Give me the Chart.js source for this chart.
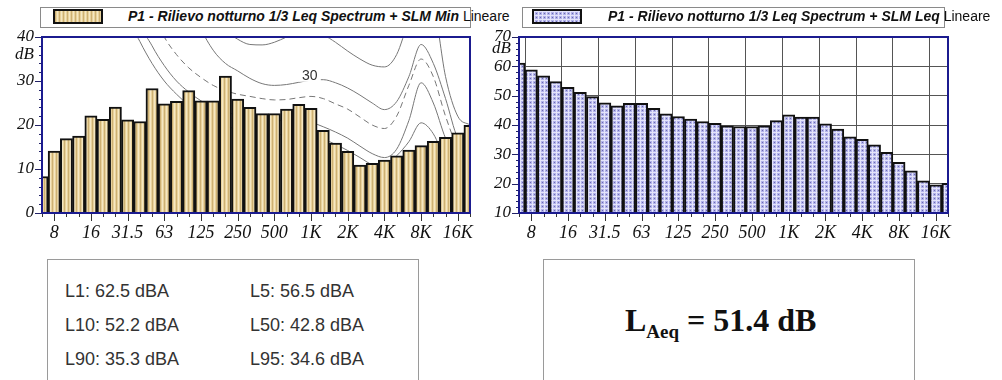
<!DOCTYPE html>
<html>
<head>
<meta charset="utf-8">
<script src="https://cdn.jsdelivr.net/npm/chart.js@4.4.0/dist/chart.umd.min.js"></script>
<style>
  body { margin: 0; width: 1002px; height: 380px; background: #fff; position: relative; overflow: hidden; font-family: "Liberation Sans", Arial, sans-serif; }
  .grafico { position: absolute; top: 0; height: 250px; }
  .legenda { position: absolute; top: 7px; height: 19px; border: 1px solid #8a8a8a; background: #fff; }
  .campione { position: absolute; top: 9px; width: 46px; height: 11px; border: 2px solid #111; }
  .testoleg { position: absolute; top: 8px; font: italic bold 14px "Liberation Sans", Arial, sans-serif; white-space: nowrap; color: #111; }
  .testoleg span { font-style: normal; font-weight: normal; }
  .riquadro { position: absolute; top: 259px; width: 370px; height: 140px; border: 1px solid #9a9a9a; background: #fff; }
  .livelli { position: absolute; left: 17px; top: 14px; width: 350px; display: grid; grid-template-columns: 185px 165px; font-size: 18px; color: #333; line-height: 34px; white-space: nowrap; }
  .laeq { position: absolute; left: 81px; top: 42px; font: bold 32px "Liberation Serif", serif; color: #111; white-space: nowrap; }
  .laeq sub { font-size: 19px; vertical-align: -7px; }
</style>
</head>
<body>
<div class="legenda" style="left:40px;width:429px"></div>
<canvas class="campione" id="campMin" width="46" height="11" style="left:53px"></canvas>
<div class="testoleg" style="left:128px">P1 - Rilievo notturno 1/3 Leq Spectrum + SLM Min <span>Lineare</span></div>

<div class="grafico" style="left:0;width:480px"><canvas id="chartMin"></canvas></div>
<div class="grafico" style="left:480px;width:522px"><canvas id="chartLeq"></canvas></div>

<div class="legenda" style="left:522px;width:421px"></div>
<canvas class="campione" id="campLeq" width="46" height="11" style="left:532px"></canvas>
<div class="testoleg" style="left:608px">P1 - Rilievo notturno 1/3 Leq Spectrum + SLM Leq <span>Lineare</span></div>

<div class="riquadro" style="left:47px">
  <div class="livelli">
    <div>L1: 62.5 dBA</div><div>L5: 56.5 dBA</div>
    <div>L10: 52.2 dBA</div><div>L50: 42.8 dBA</div>
    <div>L90: 35.3 dBA</div><div>L95: 34.6 dBA</div>
  </div>
</div>
<div class="riquadro" style="left:543px">
  <div class="laeq">L<sub>Aeq</sub> = 51.4 dB</div>
</div>

<script>
// bande di terzo d'ottava
const bande = ["6.3", "8", "10", "12.5", "16", "20", "25", "31.5", "40", "50", "63", "80",
  "100", "125", "160", "200", "250", "315", "400", "500", "630", "800", "1K", "1.25K",
  "1.6K", "2K", "2.5K", "3.15K", "4K", "5K", "6.3K", "8K", "10K", "12.5K", "16K", "20K"];
const etichetteX = ["8", "16", "31.5", "63", "125", "250", "500", "1K", "2K", "4K", "8K", "16K"];

// spettro Min (dB)
const valoriMin = [8.3, 14.1, 16.9, 17.5, 22.1, 21.3, 24.1, 21.2, 20.8, 28.3, 24.8, 25.4,
  27.8, 25.5, 25.5, 31.1, 25.9, 24.0, 22.6, 22.6, 23.6, 24.7, 23.8, 18.8,
  15.9, 14.0, 10.9, 11.3, 12.0, 13.0, 14.3, 15.3, 16.3, 17.2, 18.2, 19.9];

// spettro Leq (dB)
const valoriLeq = [61.1, 58.8, 56.8, 54.8, 52.8, 51.1, 49.7, 47.6, 46.5, 47.4, 47.4, 45.7,
  43.8, 42.9, 42.0, 41.2, 40.6, 39.7, 39.5, 39.5, 39.7, 41.5, 43.5, 42.7,
  42.7, 40.4, 38.6, 36.0, 35.1, 33.2, 30.7, 27.3, 24.4, 21.0, 19.6, 20.1];

// curve di riferimento sullo sfondo del grafico Min
const curvaAlta = [null, null, null, null, null, null, null, null, null, null, 70, 62,
  55, 49, 44.5, 41.5, 39.5, 38.3, 38.2, 38.8, 40, 41.2, 41.5, 40.5,
  38.8, 36.8, 35, 33.6, 33.2, 36, 44, 52, 48, 31, 22, 20];
const curva30 = [null, null, null, null, null, null, null, null, null, null, null, 60,
  50, 42, 37, 34, 32.3, 30.6, 29.4, 29, 29.2, 29.7, 30.2, 30.3,
  29.6, 28.4, 26.8, 25, 23.5, 25.3, 31, 38.3, 34, 26, 17, 15];
const curvaTratteggio = [null, null, null, null, null, null, null, null, 60, 46, 40, 36,
  33, 30.8, 29, 27.8, 27, 26.5, 26, 25.7, 25.8, 26.2, 26.5, 26,
  24.8, 23.6, 21.8, 20, 19.2, 22, 29, 35, 31, 22, 15, 13];
const curvaMedia = [null, null, null, null, null, null, null, 60, 44, 38, 33.5, 30,
  27.5, 25.5, 24, 23, 22.2, 21.6, 21.2, 21, 21, 21, 20.6, 19.6,
  18.4, 17, 15.2, 13.5, 12.6, 14.5, 21, 29.6, 25, 17, 12, 10];
const curvaBassa = [null, null, null, null, null, null, 60, 45, 39, 34, 30, 27,
  24.5, 22.5, 21, 19.8, 19, 18.4, 18, 17.8, 17.8, 17.8, 17.6, 16.8,
  15.6, 14.2, 12.6, 11, 10.6, 13, 16.2, 20.5, 18, 12, 8, 6];

Chart.defaults.font.family = "'Liberation Serif', serif";
Chart.defaults.color = "#111";

// Funzione per creare la trama delle barre
function creaTrama(tipo) {
  const c = document.createElement("canvas");
  c.width = 4;
  c.height = 4;
  const g = c.getContext("2d");
  if (tipo === "min") {
    g.fillStyle = "#e8d29c";
    g.fillRect(0, 0, 4, 4);
    g.fillStyle = "#cdb073";
    g.fillRect(0, 0, 1, 4);
    g.fillStyle = "#f5e7c3";
    g.fillRect(2, 0, 1, 4);
  } else {
    g.fillStyle = "#b2b2ea";
    g.fillRect(0, 0, 4, 4);
    g.fillStyle = "#e4e4fa";
    g.fillRect(0, 0, 4, 1);
    g.fillRect(0, 0, 1, 4);
    g.fillStyle = "#6c6cae";
    g.fillRect(2, 2, 1, 1);
  }
  return g.createPattern(c, "repeat");
}

function riempiCampione(id, tipo) {
  const g = document.getElementById(id).getContext("2d");
  g.fillStyle = creaTrama(tipo);
  g.fillRect(0, 0, 46, 11);
}
riempiCampione("campMin", "min");
riempiCampione("campLeq", "leq");

// cornice blu e tacche degli assi
const cornice = {
  id: "cornice",
  afterDraw(chart) {
    const { ctx, chartArea: a, scales } = chart;
    ctx.save();
    ctx.strokeStyle = "#333";
    ctx.lineWidth = 1;
    bande.forEach((b, i) => {
      const x = Math.round(scales.x.getPixelForValue(i)) + 0.5;
      const l = etichetteX.includes(b) ? 8 : 4;
      ctx.beginPath();
      ctx.moveTo(x, a.bottom);
      ctx.lineTo(x, a.bottom + l);
      ctx.stroke();
    });
    ctx.strokeStyle = "#222266";
    for (let v = scales.y.min; v <= scales.y.max; v += 2) {
      const y = Math.round(scales.y.getPixelForValue(v)) + 0.5;
      const l = v % 10 === 0 ? 7 : 3;
      ctx.beginPath();
      ctx.moveTo(a.left - l, y);
      ctx.lineTo(a.left, y);
      ctx.stroke();
    }
    ctx.strokeStyle = "#1b1b8f";
    ctx.lineWidth = 2;
    ctx.strokeRect(a.left, a.top, a.right - a.left, a.bottom - a.top);
    ctx.restore();
  },
};

// etichetta "30" sulla curva
const etichettaCurva = {
  id: "etichettaCurva",
  afterDatasetsDraw(chart) {
    if (chart.canvas.id !== "chartMin") return;
    const { ctx, scales } = chart;
    const x = scales.x.getPixelForValue(21.9);
    const y = scales.y.getPixelForValue(31.2);
    ctx.save();
    ctx.fillStyle = "#fff";
    ctx.fillRect(x - 11, y - 7, 22, 13);
    ctx.fillStyle = "#333";
    ctx.font = "14px 'Liberation Sans'";
    ctx.textAlign = "center";
    ctx.textBaseline = "middle";
    ctx.fillText("30", x, y);
    ctx.restore();
  },
};

function datiCurva(valori, tratteggio) {
  return {
    type: "line",
    data: valori,
    borderColor: "#777",
    borderWidth: 1,
    borderDash: tratteggio ? [6, 4] : [],
    pointRadius: 0,
    cubicInterpolationMode: "monotone",
    clip: 0,
    order: 2,
  };
}

function opzioniAssi(min, max, posDb, larghezzaY, griglia) {
  return {
    x: {
      offset: false,
      border: { display: false },
      grid: {
        display: griglia,
        drawTicks: false,
        color: (c) => (c.index % 3 === 1 ? "#555" : "transparent"),
      },
      ticks: {
        autoSkip: false,
        maxRotation: 0,
        padding: 9,
        font: { size: 18, style: "italic" },
        callback: function (v, i) {
          return etichetteX.includes(bande[i]) ? bande[i] : "";
        },
      },
      afterFit(scale) {
        scale.height = 37;
      },
    },
    y: {
      min: min,
      max: max,
      border: { display: false },
      grid: {
        display: griglia,
        drawTicks: false,
        color: (c) => (c.tick.value % 10 === 0 ? "#555" : "transparent"),
      },
      ticks: {
        stepSize: 2,
        autoSkip: false,
        padding: 8,
        font: { size: 17, style: "italic" },
        callback: function (v) {
          if (v % 10 === 0) return v;
          if (v === posDb) return "dB";
          return "";
        },
      },
      afterFit(scale) {
        scale.width = larghezzaY;
      },
    },
  };
}

// grafico spettro Min
new Chart(document.getElementById("chartMin"), {
  type: "bar",
  data: {
    labels: bande,
    datasets: [
      {
        data: valoriMin,
        backgroundColor: creaTrama("min"),
        borderColor: "#111",
        borderWidth: 2,
        barPercentage: 1,
        categoryPercentage: 1,
        clip: 0,
        order: 1,
      },
      datiCurva(curvaAlta, false),
      datiCurva(curva30, false),
      datiCurva(curvaTratteggio, true),
      datiCurva(curvaMedia, false),
      datiCurva(curvaBassa, false),
    ],
  },
  options: {
    responsive: true,
    maintainAspectRatio: false,
    animation: false,
    layout: { padding: { top: 37, right: 10, left: 0, bottom: 0 } },
    scales: opzioniAssi(0, 40, 36, 42, false),
    plugins: { legend: { display: false }, tooltip: { enabled: false } },
  },
  plugins: [cornice, etichettaCurva],
});

// grafico spettro Leq
new Chart(document.getElementById("chartLeq"), {
  type: "bar",
  data: {
    labels: bande,
    datasets: [
      {
        data: valoriLeq,
        backgroundColor: creaTrama("leq"),
        borderColor: "#111",
        borderWidth: 2,
        barPercentage: 1,
        categoryPercentage: 1,
        clip: 0,
      },
    ],
  },
  options: {
    responsive: true,
    maintainAspectRatio: false,
    animation: false,
    layout: { padding: { top: 37, right: 54, left: 0, bottom: 0 } },
    scales: opzioniAssi(10, 70, 66, 39, true),
    plugins: { legend: { display: false }, tooltip: { enabled: false } },
  },
  plugins: [cornice],
});
</script>
</body>
</html>
